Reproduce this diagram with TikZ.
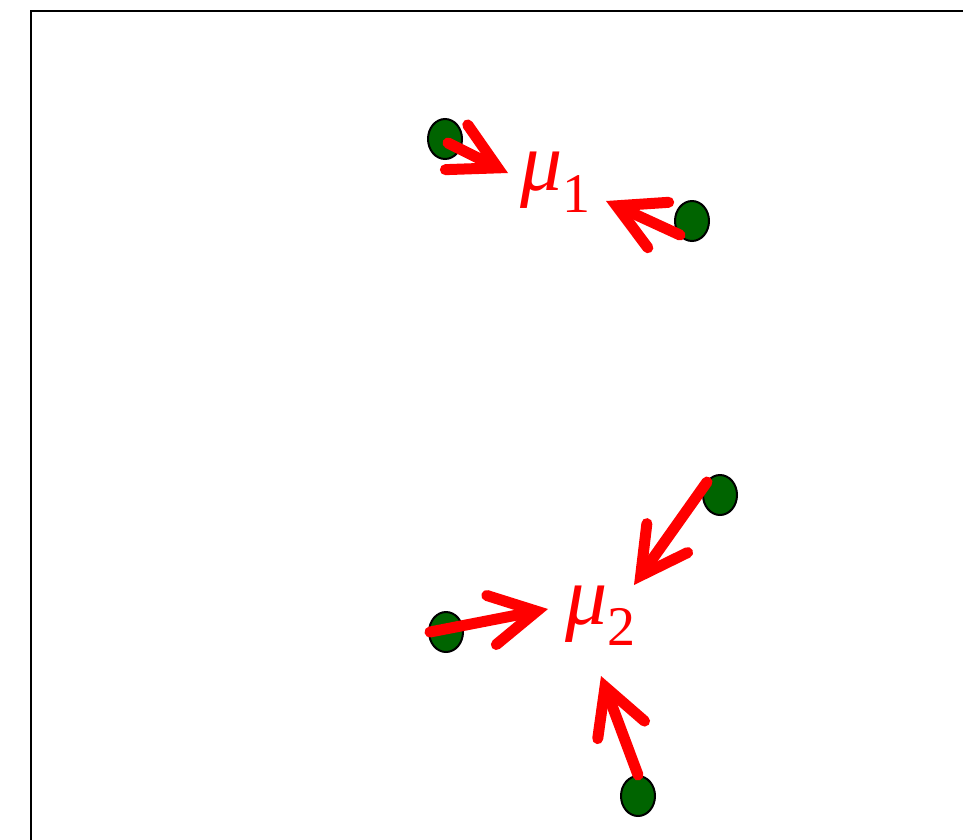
\documentclass[tikz,border=0pt]{standalone}
\usepackage{fontspec}
\setmainfont{Liberation Serif}
\usetikzlibrary{arrows.meta,shapes.geometric}
\definecolor{dotgreen}{HTML}{006400}
\begin{document}
\begin{tikzpicture}[x=1pt,y=-1pt,
  dot/.style={ellipse,draw=black,line width=2pt,fill=dotgreen,minimum width=34pt,minimum height=40pt,inner sep=0pt},
  arr/.style={draw=red,line width=11pt,line cap=round,
    -{Straight Barb[length=46pt,width=50pt,line width=11pt,line cap=round,line join=miter]}},
  mu/.style={text=red,font=\fontsize{84}{90}\selectfont\itshape,inner sep=0pt,anchor=base west},
  frame/.style={draw=black,line width=2pt}]
\useasboundingbox (0,0) rectangle (963,839);
\draw[frame] (31,900) -- (31,10.5) -- (1000,10.5);
% dots
\node[dot] (d1) at (445,139) {};
\node[dot] (d2) at (692,221) {};
\node[dot] (d3) at (720,495) {};
\node[dot] (d4) at (446,632) {};
\node[dot] (d5) at (638,796) {};
% labels
\node[mu] (m1) at (520,190) {μ\raisebox{-22pt}{\fontsize{56}{60}\selectfont\upshape 1}};
\node[mu] (m2) at (565,624) {μ\raisebox{-21pt}{\fontsize{56}{60}\selectfont\upshape 2}};
% arrow tips
\coordinate (t1) at (508,173);
\coordinate (t2) at (606,201);
\coordinate (t3) at (634,585);
\coordinate (t4) at (548,609);
\coordinate (t5) at (601,676);
% arrows
\draw[arr] ([shift={(3,4)}]d1.center) -- (t1);
\draw[arr] ([shift={(-12,14)}]d2.center) -- (t2);
\draw[arr] ([shift={(-13,-13)}]d3.center) -- (t3);
\draw[arr] ([shift={(-16,0)}]d4.center) -- (t4);
\draw[arr] ([shift={(0,-21)}]d5.center) -- (t5);
\end{tikzpicture}
\end{document}
